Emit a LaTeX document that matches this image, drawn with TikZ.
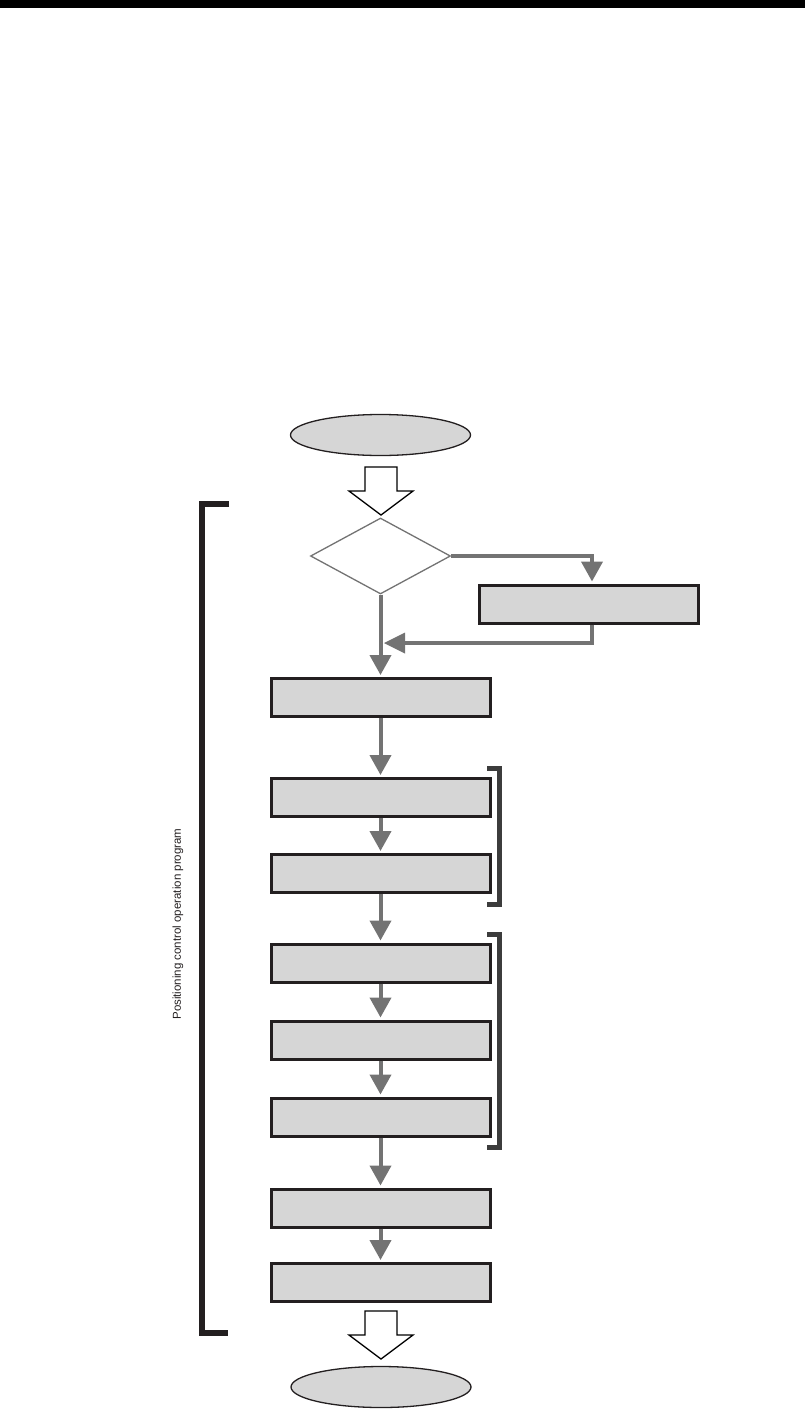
\documentclass[tikz,border=0pt]{standalone}
\usepackage{fontspec}
\setmainfont{Liberation Sans}
\usetikzlibrary{shapes.geometric,arrows.meta,positioning,calc}
\definecolor{boxfill}{HTML}{D6D6D6}
\definecolor{flowgray}{HTML}{737373}
\definecolor{inkblack}{HTML}{231F20}
\definecolor{brackgray}{HTML}{3C3C3C}
\tikzset{
  procbox/.style={draw=inkblack, line width=3pt, fill=boxfill, minimum width=219pt, minimum height=38pt, inner sep=0pt},
  termnode/.style={ellipse, draw=inkblack, line width=1.3pt, fill=boxfill, minimum width=180pt, minimum height=41pt, inner sep=0pt},
  decnode/.style={diamond, draw=flowgray, line width=1.3pt, fill=white, minimum width=140pt, minimum height=76pt, inner sep=0pt, aspect=1.84},
  flow/.style={draw=flowgray, line width=4pt, -{Triangle[length=20pt,width=21pt]}, shorten >=2pt},
  flowline/.style={draw=flowgray, line width=4pt},
  hollow/.style={draw=black, line width=1.3pt, fill=white, line join=miter},
  bracketline/.style={line width=5pt, line cap=butt, line join=miter},
  pics/hollowarrow/.style={code={
    \draw[hollow] (-16,-48) -- (16,-48) -- (16,-24) -- (32,-24) -- (0,0) -- (-32,-24) -- (-16,-24) -- cycle;
  }}
}
\begin{document}
\begin{tikzpicture}[x=1pt,y=-1pt]
\useasboundingbox (0,0) rectangle (805,1411);
\fill[black] (0,0) rectangle (805,8);

\node[termnode] (start) at (380.5,435) {};
\node[decnode] (dec) at (380.5,556) {};
\node[procbox, minimum width=219pt] (side) at (588.5,604) {};
\node[procbox] (b1) at (380.5,697.5) {};
\node[procbox] (b2) at (380.5,797.5) {};
\node[procbox] (b3) at (380.5,873.5) {};
\node[procbox] (b4) at (380.5,963) {};
\node[procbox] (b5) at (380.5,1040) {};
\node[procbox] (b6) at (380.5,1117) {};
\node[procbox] (b7) at (380.5,1208) {};
\node[procbox] (b8) at (380.5,1282.5) {};
\node[termnode] (end) at (381,1387) {};

% hollow arrows
\coordinate (h1) at (381,515);
\coordinate (h2) at (381,1359);
\pic at (h1) {hollowarrow};
\pic at (h2) {hollowarrow};

% decision branch
\coordinate (brk) at (592,556);
\draw[flow] (dec.east) -- (brk) -- (brk |- side.north);
\coordinate (ret) at (592,643);
\coordinate (retend) at (384,643);
\draw[flowline] (brk |- side.south) -- (ret) -- ($(retend)+(18,0)$);
\fill[flowgray] (retend) -- ++(21,-10.5) -- ++(0,21) -- cycle;
\draw[flow] (dec.south) -- (b1.north);

% main flow
\draw[flow] (b1.south) -- (b2.north);
\draw[flow] (b2.south) -- (b3.north);
\draw[flow] (b3.south) -- (b4.north);
\draw[flow] (b4.south) -- (b5.north);
\draw[flow] (b5.south) -- (b6.north);
\draw[flow] (b6.south) -- (b7.north);
\draw[flow] (b7.south) -- (b8.north);

% right brackets
\coordinate (r1t) at (487,768.5);
\coordinate (r1b) at (487,904.5);
\draw[bracketline, draw=brackgray] (r1t) -- (499.5,768.5) -- (499.5,904.5) -- (r1b);
\coordinate (r2t) at (487,934);
\coordinate (r2b) at (487,1147);
\draw[bracketline, draw=brackgray] (r2t) -- (499.5,934) -- (499.5,1147) -- (r2b);

% left bracket
\coordinate (lt) at (229,504);
\coordinate (lb) at (228,1333);
\draw[bracketline, line width=6pt, draw=inkblack] (lt) -- (202,504) -- (202,1333) -- (lb);
\node[rotate=90, font=\fontsize{11.5}{13}\selectfont, text=inkblack] (lbl) at (178,924) {Positioning control operation program};
\end{tikzpicture}
\end{document}
